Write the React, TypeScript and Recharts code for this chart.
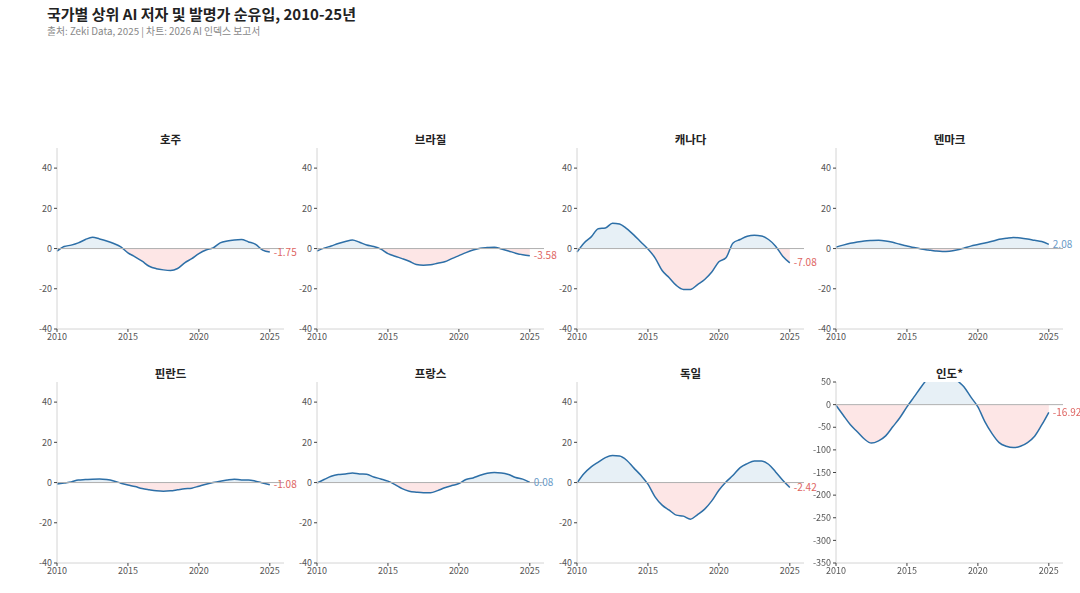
import { ComposedChart, Area, XAxis, YAxis, ReferenceLine, LabelList } from "recharts";

// half-year steps, 2010 → 2025
const years = [
  2010, 2010.5, 2011, 2011.5, 2012, 2012.5, 2013, 2013.5, 2014, 2014.5, 2015,
  2015.5, 2016, 2016.5, 2017, 2017.5, 2018, 2018.5, 2019, 2019.5, 2020,
  2020.5, 2021, 2021.5, 2022, 2022.5, 2023, 2023.5, 2024, 2024.5, 2025,
];

const australia = [
  -1.3, 1, 1.7, 2.8, 4.5, 5.6, 4.8, 3.8, 2.5, 0.8, -2.1, -4.1, -6.3, -8.8, -10, -10.6,
  -10.9, -9.9, -7.1, -5, -2.5, -0.7, 0.3, 2.8, 3.8, 4.3, 4.5, 3.3, 2.1, -0.8, -1.75,
];
const brazil = [
  -1.2, 0.2, 1.3, 2.5, 3.5, 4.3, 3.1, 1.8, 1, -0.3, -2.5, -3.8, -5, -6.3, -7.9, -8.3,
  -8.1, -7.3, -6.6, -5, -3.5, -2, -0.7, 0.2, 0.5, 0.7, -0.2, -1.2, -2.3, -3.1, -3.58,
];
const canada = [
  -1.8, 2.8, 5.8, 9.9, 10.2, 12.6, 12.2, 9.9, 6.8, 3.3, -0.2, -4.6, -10.9, -14.5, -18.3,
  -20.3, -20.3, -17.9, -15.4, -11.7, -6.6, -4.6, 2.8, 4.5, 6.1, 6.6, 6.3, 4.5, 1.2, -3.8, -7.08,
];
const denmark = [
  0.7, 1.7, 2.6, 3.3, 3.8, 4, 4.1, 3.8, 3.1, 2.1, 1.3, 0.5, -0.2, -0.7, -1.2, -1.5,
  -1.3, -0.7, 0.2, 1.2, 2, 2.8, 3.6, 4.6, 5.1, 5.5, 5.3, 4.8, 4.1, 3.5, 2.08,
];
const finland = [
  -0.7, -0.2, 0.3, 1.3, 1.5, 1.7, 1.8, 1.5, 0.8, -0.3, -1.2, -2, -3, -3.6, -4.1, -4.3,
  -4.1, -3.6, -3.1, -2.8, -1.8, -0.8, 0, 0.7, 1.3, 1.7, 1.3, 1.3, 0.7, -0.2, -1.08,
];
const france = [
  -0.2, 1.5, 3.1, 4, 4.3, 4.8, 4.3, 4.1, 2.8, 1.8, 0.7, -1, -3, -4.3, -4.8, -5.1,
  -5.1, -4, -2.6, -1.5, -0.5, 1.5, 2.3, 3.6, 4.6, 5, 4.8, 4, 2.5, 1.7, 0.08,
];
const germany = [
  -0.2, 4.5, 7.8, 10.2, 12.4, 13.4, 13.2, 11.1, 7.3, 3.6, -0.8, -7.1, -11.2, -13.7, -16.2,
  -16.7, -18.2, -15.9, -13.2, -9.1, -3.8, 0.3, 3.6, 7.4, 9.4, 10.7, 10.7, 9.1, 5.3, 1.2, -2.42,
];
const india = [
  -1.5, -23, -44, -60, -76, -85, -80, -69, -49, -29, -5, 17, 39, 60, 80, 88,
  78, 55, 40, 17, -5, -38, -64, -84, -92, -95, -92, -84, -70, -45, -16.92,
];

const countries = ["호주", "브라질", "캐나다", "덴마크", "핀란드", "프랑스", "독일", "인도*"];
const seriesList = [australia, brazil, canada, denmark, finland, france, germany, india];

const xTicks = [2010, 2015, 2020, 2025];
const yTicks = [-40, -20, 0, 20, 40];
const indiaTicks = [-350, -300, -250, -200, -150, -100, -50, 0, 50];

const COL_X = [57, 317, 577, 836];
const ROW_Y = [148, 382];
const PLOT_W = 227;
const PLOT_H = 181;
const LEFT = 40;
const RIGHT = 30;
const TOP = 10;
const BOTTOM = 20;

const axisText = { fontSize: 9, fill: "#555" };

function Panel({ idx }: { idx: number }) {
  const title = countries[idx];
  const values = seriesList[idx];
  const isIndia = idx === 7;
  const domain = isIndia ? [-350, 50] : [-40, 50];
  const ticks = isIndia ? indiaTicks : yTicks;
  const data = years.map((y, i) => ({ year: y, value: values[i] }));
  const hi = Math.max(0, ...values);
  const lo = Math.min(0, ...values);
  const off = hi / (hi - lo);
  const last = values[values.length - 1];
  const labelColor = last < 0 ? "#de6562" : "#6a9bc8";
  const plotLeft = COL_X[idx % 4];
  const plotTop = ROW_Y[Math.floor(idx / 4)];
  const gid = `fill-${idx}`;

  return (
    <>
      <div
        style={{
          position: "absolute",
          left: plotLeft,
          top: plotTop - 15,
          width: PLOT_W,
          textAlign: "center",
          fontSize: 11.5,
          fontWeight: 700,
          lineHeight: "13px",
          color: "#222",
        }}
      >
        {title}
      </div>
      <div style={{ position: "absolute", left: plotLeft - LEFT, top: plotTop - TOP }}>
        <ComposedChart
          width={LEFT + PLOT_W + RIGHT}
          height={TOP + PLOT_H + BOTTOM}
          data={data}
          margin={{ top: TOP, right: RIGHT, left: 0, bottom: 0 }}
        >
          <defs>
            <linearGradient id={gid} x1="0" y1="0" x2="0" y2="1">
              <stop offset={off} stopColor="#e7f0f6" />
              <stop offset={off} stopColor="#fde6e6" />
            </linearGradient>
          </defs>
          <XAxis
            dataKey="year"
            type="number"
            domain={[2010, 2026]}
            ticks={xTicks}
            interval={0}
            height={BOTTOM}
            tickSize={3}
            tick={axisText}
            axisLine={{ stroke: "#d4d4d4" }}
            tickLine={{ stroke: "#444" }}
          />
          <YAxis
            type="number"
            domain={domain}
            ticks={ticks}
            interval={0}
            allowDataOverflow
            width={LEFT}
            tickSize={3}
            tick={axisText}
            axisLine={{ stroke: "#d4d4d4" }}
            tickLine={{ stroke: "#444" }}
          />
          <ReferenceLine y={0} stroke="#b0b0b0" strokeWidth={1} />
          <Area
            dataKey="value"
            type="monotone"
            baseValue={0}
            stroke="#2d6fa7"
            strokeWidth={1.5}
            fill={`url(#${gid})`}
            fillOpacity={1}
            dot={false}
            activeDot={false}
            isAnimationActive={false}
          >
            <LabelList
              dataKey="value"
              content={(p: any) =>
                p.index === data.length - 1 ? (
                  <text x={p.x + 4} y={p.y} dy={3.5} fontSize={10} fill={labelColor}>
                    {Number(p.value).toFixed(2)}
                  </text>
                ) : null
              }
            />
          </Area>
        </ComposedChart>
      </div>
    </>
  );
}

export default function App() {
  return (
    <div
      style={{
        position: "fixed",
        left: 0,
        top: 0,
        width: 1080,
        height: 593,
        background: "#fff",
        fontFamily: "'Noto Sans CJK KR', 'Noto Sans', sans-serif",
      }}
    >
      <div style={{ position: "absolute", left: 47, top: 5, fontSize: 15, fontWeight: 700, color: "#222", lineHeight: "18px" }}>
        국가별 상위 AI 저자 및 발명가 순유입, 2010-25년
      </div>
      <div style={{ position: "absolute", left: 47, top: 25, fontSize: 9.8, color: "#888", lineHeight: "12px" }}>
        출처: Zeki Data, 2025 | 차트: 2026 AI 인덱스 보고서
      </div>
      {countries.map((_, i) => (
        <Panel key={i} idx={i} />
      ))}
    </div>
  );
}
